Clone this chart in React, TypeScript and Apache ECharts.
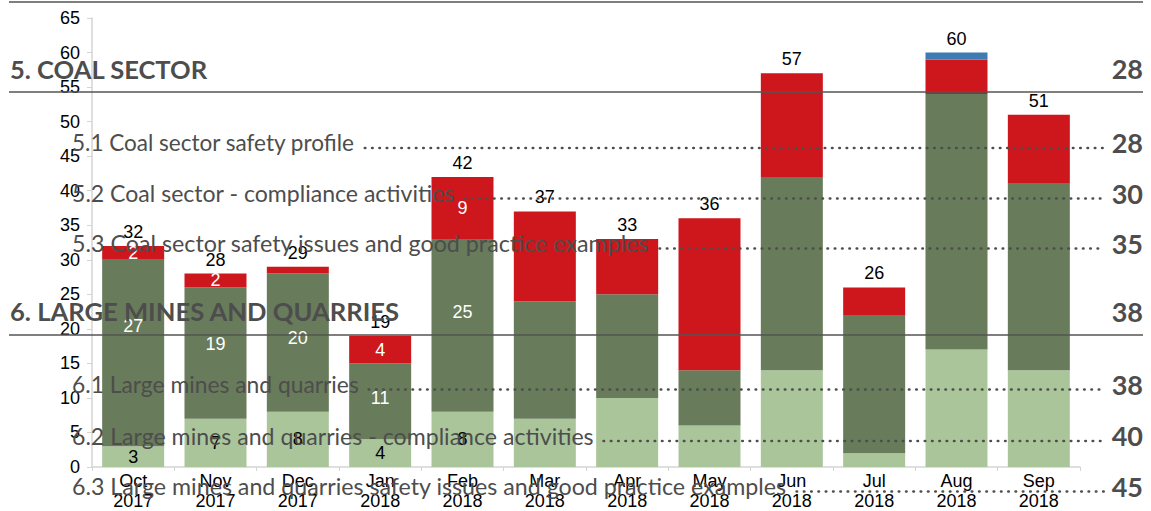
import React, { useEffect, useRef } from "react";
import * as echarts from "echarts";

// ---------- chart data ----------
const categories = [
  "Oct\n2017", "Nov\n2017", "Dec\n2017", "Jan\n2018", "Feb\n2018", "Mar\n2018",
  "Apr\n2018", "May\n2018", "Jun\n2018", "Jul\n2018", "Aug\n2018", "Sep\n2018",
];
const lightGreenValues = [3, 7, 8, 4, 8, 7, 10, 6, 14, 2, 17, 14];
const darkGreenValues = [27, 19, 20, 11, 25, 17, 15, 8, 28, 20, 37, 27];
const redValues = [2, 2, 1, 4, 9, 13, 8, 22, 15, 4, 5, 10];
const blueValues = [0, 0, 0, 0, 0, 0, 0, 0, 0, 0, 1, 0];
const totals = [32, 28, 29, 19, 42, 37, 33, 36, 57, 26, 60, 51];
const labelledCount = 5; // segment labels shown on the first five bars
const yTicks = { min: 0, max: 65, interval: 5 };

// ---------- overlaid table of contents ----------
const tocTitles = [
  "5. COAL SECTOR",
  "5.1 Coal sector safety profile",
  "5.2 Coal sector - compliance activities",
  "5.3 Coal sector safety issues and good practice examples",
  "6. LARGE MINES AND QUARRIES",
  "6.1 Large mines and quarries",
  "6.2 Large mines and quarries - compliance activities",
  "6.3 Large mines and quarries safety issues and good practice examples",
];
const tocPages = ["28", "28", "30", "35", "38", "38", "40", "45"];
const tocIsHeading = [true, false, false, false, true, false, false, false];

// layout of the overlay (pixels)
const tocRowY = [68.5, 142.5, 193, 243, 311, 384, 435.5, 486];
const tocTextRight = [208, 355, 455, 650, 400, 359, 594, 787];
const ruleY = [2, 92, 335];

const COLORS = {
  light: "#abc59b",
  dark: "#687b5a",
  red: "#cd171c",
  blue: "#3d7bb2",
  toc: "#4d4d4d",
  axis: "#d4d4d4",
};

const TOC_FAMILY = "Lato";
const CHART_FONT = "'Liberation Sans', Arial, sans-serif";

function measure(text: string, font: string): number {
  const c = document.createElement("canvas");
  const ctx = c.getContext("2d");
  if (!ctx) return text.length * 10;
  ctx.font = font;
  return ctx.measureText(text).width;
}

export default function App() {
  const ref = useRef<HTMLDivElement>(null);

  useEffect(() => {
    if (!ref.current) return;
    const chart = echarts.init(ref.current, null, { renderer: "svg" });

    const segData = (vals: number[], color: string, offsets?: number[]) =>
      vals.map((v, i) => ({
        value: v,
        label: {
          show: i < labelledCount && v >= 2,
          color,
          offset: offsets ? [0, offsets[i] || 0] : [0, 0],
        },
      }));

    const darkOffsets = [-27, -9, -5, -3, -13];

    const barBase = {
      type: "bar" as const,
      stack: "total",
      barWidth: 62,
      label: {
        position: "inside",
        fontFamily: CHART_FONT,
        fontSize: 18,
      },
      emphasis: { disabled: true },
    };

    // overlay graphics
    const graphics: any[] = [];
    ruleY.forEach((y) => {
      graphics.push({
        type: "line",
        z: 100,
        shape: { x1: 9, y1: y, x2: 1143, y2: y },
        style: { stroke: "#555555", lineWidth: 1.3 },
      });
    });
    tocTitles.forEach((t, i) => {
      const heading = tocIsHeading[i];
      const left = heading ? 10 : 72;
      const base = heading ? 24 : 21;
      const weight = heading ? "bold " : "";
      const fitted = base * (tocTextRight[i] - left) / measure(t, `${weight}${base}px ${TOC_FAMILY}`);
      const size = Math.min(base * 1.15, Math.max(base * 0.85, fitted));
      const font = `${weight}${size}px ${TOC_FAMILY}`;
      graphics.push({
        type: "text",
        z: 100,
        x: left,
        y: tocRowY[i],
        style: {
          text: t,
          font,
          fill: COLORS.toc,
          align: "left",
          verticalAlign: "middle",
        },
      });
      graphics.push({
        type: "text",
        z: 100,
        x: 1143,
        y: tocRowY[i],
        style: {
          text: tocPages[i],
          font: `bold 27px ${TOC_FAMILY}`,
          fill: COLORS.toc,
          align: "right",
          verticalAlign: "middle",
        },
      });
      if (!heading) {
        const w = measure(t, font);
        const start = left + w + 10;
        graphics.push({
          type: "line",
          z: 100,
          shape: { x1: start, y1: tocRowY[i] + 5.5, x2: 1104, y2: tocRowY[i] + 5.5 },
          style: {
            stroke: "#4d4d4d",
            lineWidth: 2.7,
            lineCap: "round",
            lineDash: [0.4, 6.9],
          },
        });
      }
    });

    chart.setOption({
      animation: false,
      textStyle: { fontFamily: CHART_FONT },
      grid: { left: 92, right: 71, top: 18, bottom: 43, containLabel: false },
      xAxis: {
        type: "category",
        data: categories,
        axisLine: { lineStyle: { color: COLORS.axis, width: 1.5 } },
        axisTick: { show: true, length: 4, lineStyle: { color: COLORS.axis } },
        axisLabel: {
          color: "#000",
          fontSize: 18,
          lineHeight: 20,
          margin: 4,
          fontFamily: CHART_FONT,
          interval: 0,
        },
      },
      yAxis: {
        type: "value",
        min: yTicks.min,
        max: yTicks.max,
        interval: yTicks.interval,
        axisLine: { show: true, lineStyle: { color: COLORS.axis, width: 1.5 } },
        axisTick: { show: true, length: 5, lineStyle: { color: COLORS.axis } },
        splitLine: { show: false },
        axisLabel: { color: "#000", fontSize: 18, margin: 12, fontFamily: CHART_FONT },
      },
      series: [
        { ...barBase, name: "light", itemStyle: { color: COLORS.light }, data: segData(lightGreenValues, "#000") },
        { ...barBase, name: "dark", itemStyle: { color: COLORS.dark }, data: segData(darkGreenValues, "#fff", darkOffsets) },
        { ...barBase, name: "red", itemStyle: { color: COLORS.red }, data: segData(redValues, "#fff") },
        { ...barBase, name: "blue", itemStyle: { color: COLORS.blue }, data: blueValues.map((v) => ({ value: v, label: { show: false } })) },
        {
          type: "line",
          name: "total",
          data: totals,
          symbol: "circle",
          symbolSize: 2,
          showSymbol: true,
          itemStyle: { color: "rgba(0,0,0,0)" },
          lineStyle: { color: "rgba(0,0,0,0)", width: 0 },
          silent: true,
          z: 5,
          label: {
            show: true,
            position: "top",
            distance: 4,
            color: "#000",
            fontSize: 18,
            fontFamily: CHART_FONT,
          },
        },
      ],
      graphic: { elements: graphics },
    });

    return () => chart.dispose();
  }, []);

  return <div ref={ref} style={{ width: 1151, height: 511, position: "absolute", left: 0, top: 0, background: "#fff" }} />;
}
